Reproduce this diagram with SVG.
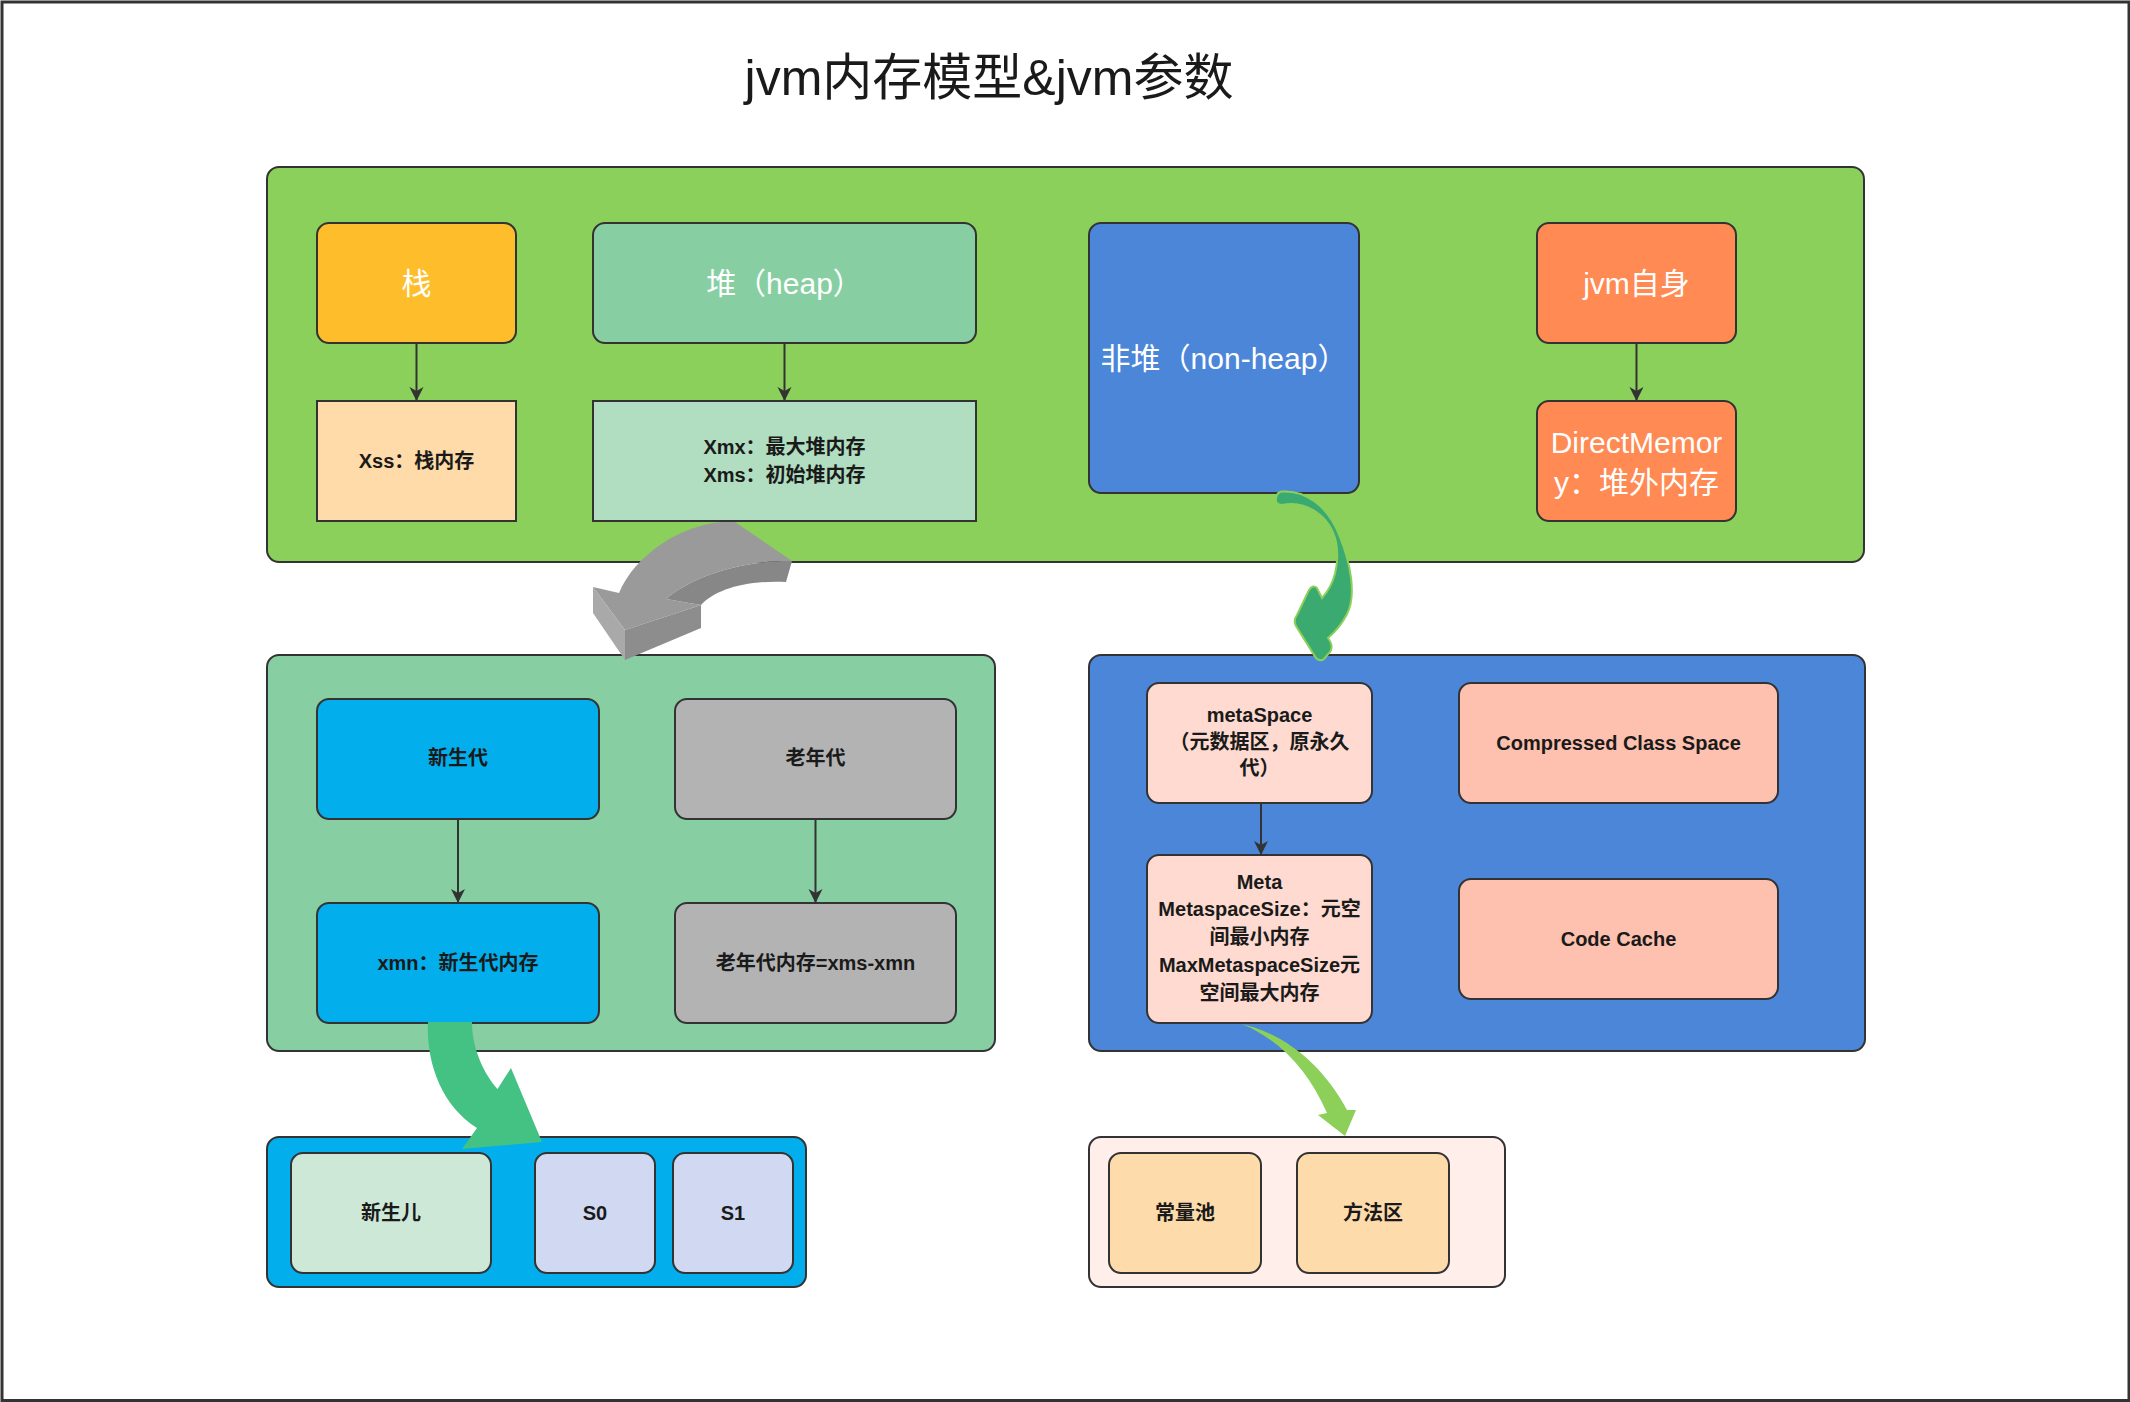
<svg xmlns="http://www.w3.org/2000/svg" width="2130" height="1402" viewBox="0 0 2130 1402">
<defs>
<style>
.box{stroke:#333333;stroke-width:2}
.t{font-family:'Liberation Sans','Noto Sans CJK SC',sans-serif;text-anchor:middle}
.h{font-size:30px;fill:#ffffff}
.s{font-size:20px;font-weight:bold;fill:#1a1a1a}
.conn{stroke:#333333;stroke-width:2;fill:none}
</style>
<marker id="arr" markerUnits="userSpaceOnUse" markerWidth="16" markerHeight="16" refX="14" refY="8" orient="auto">
<path d="M0,1 L14,8 L0,15 L4,8 Z" fill="#333333"/>
</marker>
</defs>
<rect x="0" y="0" width="2130" height="1402" fill="#ffffff"/>
<rect x="2" y="2" width="2127" height="1398.5" fill="#ffffff" stroke="#333333" stroke-width="3"/>
<text class="t" x="989" y="95" font-size="50" fill="#1a1a1a">jvm内存模型&amp;jvm参数</text>

<g id="container-jvm">
<rect class="box" x="267" y="167" width="1597" height="395" rx="12" fill="#8BD05A"/>
</g>
<g id="container-heap">
<rect class="box" x="267" y="655" width="728" height="396" rx="12" fill="#87CFA3"/>
</g>
<g id="container-nonheap">
<rect class="box" x="1089" y="655" width="776" height="396" rx="12" fill="#4C86D9"/>
</g>
<g id="container-young">
<rect class="box" x="267" y="1137" width="539" height="150" rx="12" fill="#02AEEB"/>
</g>
<g id="container-method">
<rect class="box" x="1089" y="1137" width="416" height="150" rx="12" fill="#FFEEEA"/>
</g>

<g id="node-stack">
<rect class="box" x="317" y="223" width="199" height="120" rx="12" fill="#FEBE2C"/>
<text class="t h" x="416.5" y="293.5">栈</text>
</g>
<g id="node-xss">
<rect class="box" x="317" y="401" width="199" height="120" fill="#FFDBA9"/>
<text class="t s" x="416.5" y="468">Xss：栈内存</text>
</g>
<g id="node-heap">
<rect class="box" x="593" y="223" width="383" height="120" rx="12" fill="#87CFA3"/>
<text class="t h" x="784.5" y="293.5">堆（heap）</text>
</g>
<g id="node-xmx">
<rect class="box" x="593" y="401" width="383" height="120" fill="#B1DDC1"/>
<text class="t s" x="784.5" y="454">Xmx：最大堆内存</text>
<text class="t s" x="784.5" y="482">Xms：初始堆内存</text>
</g>
<g id="node-nonheap">
<rect class="box" x="1089" y="223" width="270" height="270" rx="12" fill="#4C86D9"/>
<text class="t h" x="1224" y="368.5">非堆（non-heap）</text>
</g>
<g id="node-jvmself">
<rect class="box" x="1537" y="223" width="199" height="120" rx="12" fill="#FF8A53"/>
<text class="t h" x="1636.5" y="293.5">jvm自身</text>
</g>
<g id="node-direct">
<rect class="box" x="1537" y="401" width="199" height="120" rx="12" fill="#FF8A53"/>
<text class="t h" x="1636.5" y="452.5">DirectMemor</text>
<text class="t h" x="1636.5" y="492.5">y：堆外内存</text>
</g>

<g id="node-young">
<rect class="box" x="317" y="699" width="282" height="120" rx="12" fill="#02AEEB"/>
<text class="t s" x="458" y="765">新生代</text>
</g>
<g id="node-xmn">
<rect class="box" x="317" y="903" width="282" height="120" rx="12" fill="#02AEEB"/>
<text class="t s" x="458" y="970">xmn：新生代内存</text>
</g>
<g id="node-old">
<rect class="box" x="675" y="699" width="281" height="120" rx="12" fill="#B3B3B3"/>
<text class="t s" x="815.5" y="765">老年代</text>
</g>
<g id="node-oldmem">
<rect class="box" x="675" y="903" width="281" height="120" rx="12" fill="#B3B3B3"/>
<text class="t s" x="815.5" y="970">老年代内存=xms-xmn</text>
</g>

<g id="node-metaspace">
<rect class="box" x="1147" y="683" width="225" height="120" rx="12" fill="#FEDAD0"/>
<text class="t s" x="1259.5" y="722">metaSpace</text>
<text class="t s" x="1259.5" y="749">（元数据区，原永久</text>
<text class="t s" x="1259.5" y="775">代）</text>
</g>
<g id="node-meta">
<rect class="box" x="1147" y="855" width="225" height="168" rx="12" fill="#FEDAD0"/>
<text class="t s" x="1259.5" y="889">Meta</text>
<text class="t s" x="1259.5" y="916">MetaspaceSize：元空</text>
<text class="t s" x="1259.5" y="944">间最小内存</text>
<text class="t s" x="1259.5" y="972">MaxMetaspaceSize元</text>
<text class="t s" x="1259.5" y="1000">空间最大内存</text>
</g>
<g id="node-ccs">
<rect class="box" x="1459" y="683" width="319" height="120" rx="12" fill="#FEC1AF"/>
<text class="t s" x="1618.5" y="750">Compressed Class Space</text>
</g>
<g id="node-codecache">
<rect class="box" x="1459" y="879" width="319" height="120" rx="12" fill="#FEC1AF"/>
<text class="t s" x="1618.5" y="946">Code Cache</text>
</g>

<g id="node-eden">
<rect class="box" x="291" y="1153" width="200" height="120" rx="12" fill="#CEE8D8"/>
<text class="t s" x="391" y="1220">新生儿</text>
</g>
<g id="node-s0">
<rect class="box" x="535" y="1153" width="120" height="120" rx="12" fill="#D0D9F1"/>
<text class="t s" x="595" y="1220">S0</text>
</g>
<g id="node-s1">
<rect class="box" x="673" y="1153" width="120" height="120" rx="12" fill="#D0D9F1"/>
<text class="t s" x="733" y="1220">S1</text>
</g>
<g id="node-constpool">
<rect class="box" x="1109" y="1153" width="152" height="120" rx="12" fill="#FDDBAA"/>
<text class="t s" x="1185" y="1220">常量池</text>
</g>
<g id="node-methodarea">
<rect class="box" x="1297" y="1153" width="152" height="120" rx="12" fill="#FDDBAA"/>
<text class="t s" x="1373" y="1220">方法区</text>
</g>

<g id="connectors">
<line class="conn" x1="416.5" y1="343" x2="416.5" y2="401" marker-end="url(#arr)"/>
<line class="conn" x1="784.5" y1="343" x2="784.5" y2="401" marker-end="url(#arr)"/>
<line class="conn" x1="1636.5" y1="343" x2="1636.5" y2="401" marker-end="url(#arr)"/>
<line class="conn" x1="458" y1="819" x2="458" y2="903" marker-end="url(#arr)"/>
<line class="conn" x1="815.5" y1="819" x2="815.5" y2="903" marker-end="url(#arr)"/>
<line class="conn" x1="1261" y1="803" x2="1261" y2="855" marker-end="url(#arr)"/>
<g id="arrow-gray">
<path d="M735,522 L792,561 C740,560 690,578 666,599 L701,605 L625,630 L593,587 L619,593 C635,555 680,525 723,522 Z" fill="#9A9A9A"/>
<path d="M792,561 L786,582 C745,580 715,590 701,605 L666,599 C690,578 740,560 792,561 Z" fill="#878787"/>
<path d="M593,587 L625,630 L625,660 L593,613 Z" fill="#A9A9A9"/>
<path d="M625,630 L701,605 L701,628 L625,660 Z" fill="#8D8D8D"/>
</g>
<path id="arrow-nonheap" d="M1282,491.5 C1305,490 1328,505 1340,537 C1350,562 1357,595 1347,614 C1342,624 1335,632 1328,638 Q1334,646 1330,652 L1324,659 Q1320,662 1316,658 L1296,626 Q1293,620 1297,615 L1309,590 Q1313,584 1317,588 L1322,598 C1334,585 1340,565 1336,542 C1330,515 1305,500 1282,505 Q1275,505 1276,498 Q1277,492 1282,491.5 Z" fill="#3AAA70" stroke="#8CD05A" stroke-width="2"/>
<path id="arrow-young" d="M428,1022 C426,1060 440,1105 477,1128 L462,1149 L542,1142 L511,1068 L497.5,1089 C485,1075 472,1050 472,1022 Z" fill="#44C284"/>
<path id="arrow-meta" d="M1238,1023 C1280,1032 1320,1060 1347,1110 L1356,1110 L1345,1136 L1318,1115 L1327,1113 C1308,1070 1280,1040 1242,1024 Z" fill="#8CD05A"/>
</g>
</svg>
